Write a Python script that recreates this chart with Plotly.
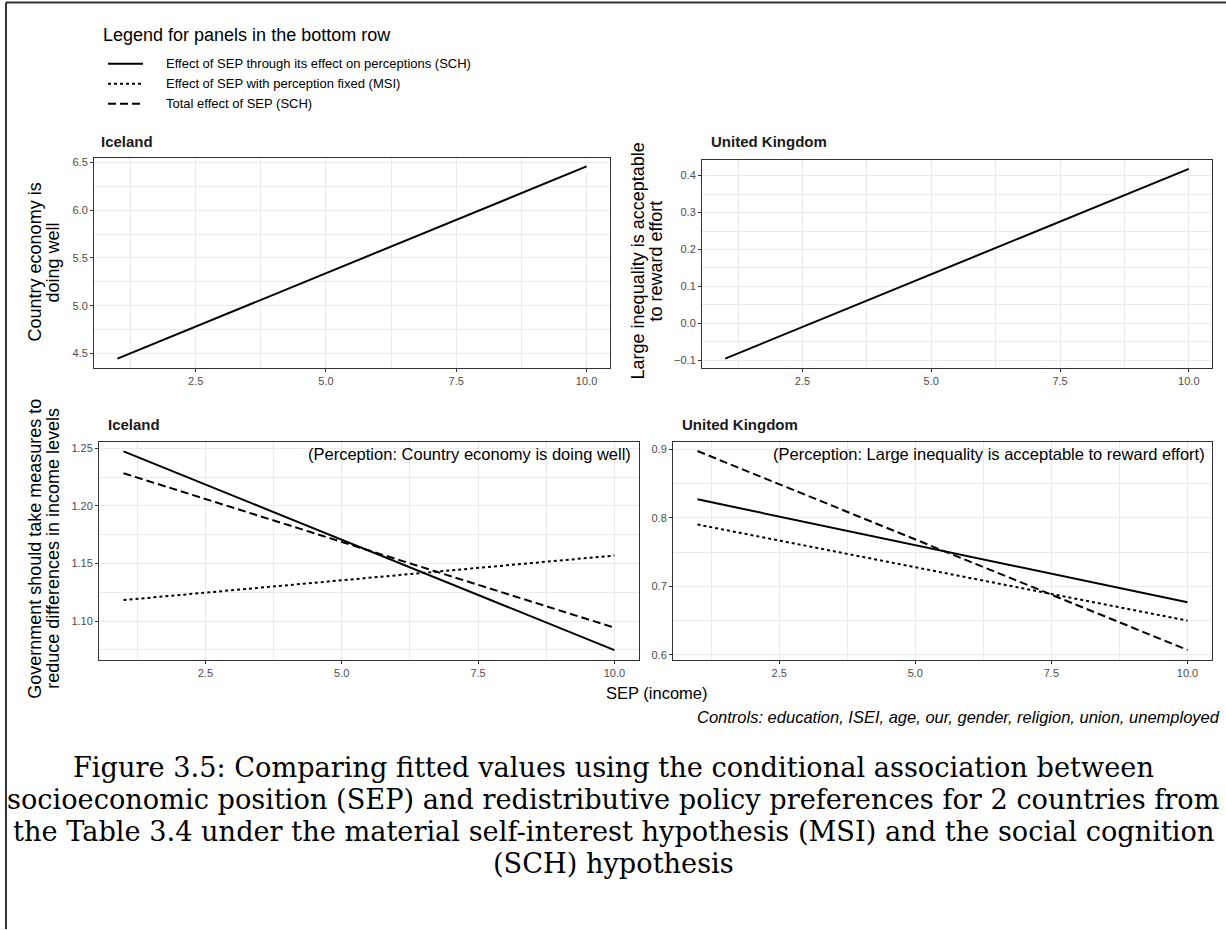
import plotly.graph_objects as go

# ---- data -------------------------------------------------------------
sep = [1, 10]

# top row: perceptions predicted by SEP
iceland_perception = [4.445, 6.458]
uk_perception = [-0.095, 0.418]

# bottom row: redistribution preferences
iceland_sch_indirect = [1.2474, 1.0747]
iceland_msi = [1.1182, 1.1569]
iceland_total = [1.2284, 1.0942]

uk_sch_indirect = [0.827, 0.6767]
uk_msi = [0.7903, 0.650]
uk_total = [0.8975, 0.6073]

x_ticks = [2.5, 5.0, 7.5, 10.0]

legend_labels = [
    "Effect of SEP through its effect on perceptions (SCH)",
    "Effect of SEP with perception fixed (MSI)",
    "Total effect of SEP (SCH)",
]

caption_lines = [
    "Figure 3.5: Comparing fitted values using the conditional association between",
    "socioeconomic position (SEP) and redistributive policy preferences for 2 countries from",
    "the Table 3.4 under the material self-interest hypothesis (MSI) and the social cognition",
    "(SCH) hypothesis",
]

# ---- page geometry ----------------------------------------------------
W, H = 1226, 930
SANS = "Liberation Sans, Arial, Helvetica, sans-serif"
SERIF = "DejaVu Serif, serif"


def fx(p):
    return p / W


def fy(p):
    return 1 - p / H


DASH_LONG = "8px,4px"
DASH_DOT = "3px,3px"
styles = ["solid", DASH_DOT, DASH_LONG]

fig = go.Figure()


def add_line(y, axis_id, dash):
    fig.add_trace(go.Scatter(
        x=sep, y=y, mode="lines",
        line=dict(color="black", width=2, dash=dash),
        xaxis="x" + axis_id, yaxis="y" + axis_id,
        showlegend=False, hoverinfo="skip",
    ))


add_line(iceland_perception, "", "solid")
add_line(uk_perception, "2", "solid")
for ys, st in zip([iceland_sch_indirect, iceland_msi, iceland_total], styles):
    add_line(ys, "3", st)
for ys, st in zip([uk_sch_indirect, uk_msi, uk_total], styles):
    add_line(ys, "4", st)

# panel boxes in pixels: (left, right, top, bottom)
panels = {
    "": (94, 610, 157, 368),
    "2": (702, 1212, 159, 368),
    "3": (99, 639, 442, 660),
    "4": (673, 1212, 442, 660),
}
y_specs = {
    "": dict(range=[4.345, 6.55], dtick=0.5, fmt=".1f"),
    "2": dict(range=[-0.121, 0.443], dtick=0.1, fmt=".1f"),
    "3": dict(range=[1.0665, 1.2555], dtick=0.05, fmt=".2f"),
    "4": dict(range=[0.5932, 0.9106], dtick=0.1, fmt=".1f"),
}

GRID = "#EBEBEB"
axis_common = dict(
    showline=True, mirror=True, linecolor="#333333", linewidth=1,
    ticks="outside", ticklen=3, tickcolor="#333333", tickwidth=1,
    showgrid=True, gridcolor=GRID, gridwidth=1.2, zeroline=False,
    tickfont=dict(family=SANS, size=11, color="#4D4D4D"),
)

layout_axes = {}
for aid, (l, r, t, b) in panels.items():
    ys = y_specs[aid]
    layout_axes["xaxis" + aid] = dict(
        axis_common,
        domain=[fx(l), fx(r)], range=[0.55, 10.45],
        tickvals=x_ticks, tickformat=".1f",
        anchor="y" + aid,
        minor=dict(dtick=1.25, tick0=0, showgrid=True, gridcolor=GRID,
                   gridwidth=0.6, ticks=""),
    )
    layout_axes["yaxis" + aid] = dict(
        axis_common,
        domain=[fy(b), fy(t)], range=ys["range"],
        dtick=ys["dtick"], tick0=0, tickformat=ys["fmt"],
        anchor="x" + aid,
        minor=dict(dtick=ys["dtick"] / 2, tick0=0, showgrid=True,
                   gridcolor=GRID, gridwidth=0.6, ticks=""),
    )

annotations = []


def text(x, y, s, size, xanchor="left", family=SANS, color="black",
         bold=False, italic=False, angle=0, align="left"):
    annotations.append(dict(
        x=fx(x), y=fy(y), xref="paper", yref="paper", text=s,
        showarrow=False, xanchor=xanchor, yanchor="middle",
        textangle=angle, align=align,
        font=dict(family=family, size=size, color=color,
                  weight="bold" if bold else "normal",
                  style="italic" if italic else "normal"),
    ))


# legend block
text(101, 34, "Legend for panels in the bottom row", 18)
shapes = []
for i, (lab, st) in enumerate(zip(legend_labels, styles)):
    yy = 63 + 20 * i
    shapes.append(dict(type="line", xref="paper", yref="paper",
                       x0=fx(108), x1=fx(143), y0=fy(yy), y1=fy(yy),
                       line=dict(color="black", width=2, dash=st)))
    text(164, yy, lab, 13)

# panel titles
text(99, 141, "Iceland", 15, bold=True, color="#1A1A1A")
text(709, 141, "United Kingdom", 15, bold=True, color="#1A1A1A")
text(106, 424, "Iceland", 15, bold=True, color="#1A1A1A")
text(680, 424, "United Kingdom", 15, bold=True, color="#1A1A1A")

# y-axis titles, one rotated line each
text(35, 262, "Country economy is", 18, xanchor="center", angle=-90)
text(53, 262, "doing well", 18, xanchor="center", angle=-90)
text(638, 261, "Large inequality is acceptable", 18, xanchor="center", angle=-90)
text(656, 261, "to reward effort", 18, xanchor="center", angle=-90)
text(35, 549, "Government should take measures to", 18, xanchor="center", angle=-90)
text(53, 549, "reduce differences in income levels", 18, xanchor="center", angle=-90)

# in-panel perception notes
text(633, 454, "(Perception: Country economy is doing well)", 16.5, xanchor="right")
text(1207, 454, "(Perception: Large inequality is acceptable to reward effort)", 16.5,
     xanchor="right")

# x-axis title and note
text(656, 693, "SEP (income)", 16.5, xanchor="center")
text(1222, 718, "Controls: education, ISEI, age, our, gender, religion, union, unemployed",
     16.5, xanchor="right", italic=True)

# caption
for i, line in enumerate(caption_lines):
    text(613, 768 + 32 * i, line, 27.2, xanchor="center", family=SERIF)

# page frame
shapes.append(dict(type="line", xref="paper", yref="paper",
                   x0=fx(6), x1=1, y0=fy(1.5), y1=fy(1.5),
                   line=dict(color="#333333", width=2)))
shapes.append(dict(type="line", xref="paper", yref="paper",
                   x0=fx(6), x1=fx(6), y0=fy(1.5), y1=0,
                   line=dict(color="#333333", width=2)))

fig.update_layout(
    width=W, height=H, margin=dict(l=0, r=0, t=0, b=0),
    paper_bgcolor="white", plot_bgcolor="white",
    annotations=annotations, shapes=shapes, showlegend=False,
    **layout_axes,
)

fig.write_html("out.html", config={"displayModeBar": False})
